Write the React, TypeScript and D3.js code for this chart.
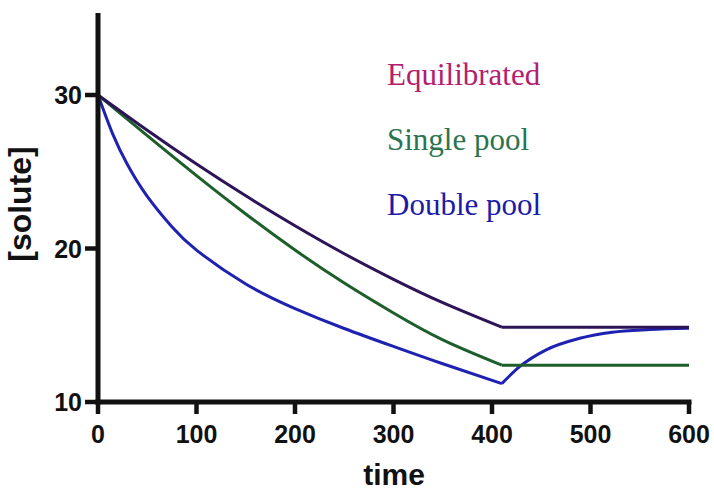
import React from "react";
import * as d3 from "d3";

// Solute concentration during and after a dialysis session (ends at t = 410)
const eqTimeOn = [0, 50, 100, 150, 200, 250, 300, 350, 410];
const eqValOn = [30, 27.7, 25.5, 23.43, 21.48, 19.66, 17.99, 16.47, 14.87];
const eqTimeOff = [410, 600];
const eqValOff = [14.87, 14.87];

const spTimeOn = [0, 50, 100, 150, 200, 250, 300, 350, 410];
const spValOn = [30, 27.35, 24.75, 22.25, 19.9, 17.75, 15.8, 14.05, 12.4];
const spTimeOff = [410, 600];
const spValOff = [12.4, 12.4];

const dpTimeOn = [0, 15, 30, 50, 75, 100, 150, 200, 250, 300, 350, 410];
const dpValOn = [30, 27.45, 25.45, 23.39, 21.41, 19.89, 17.69, 16.09, 14.79, 13.62, 12.49, 11.2];
const dpTimeOff = [410, 428, 455, 489, 522, 560, 600];
const dpValOff = [11.2, 12.3, 13.4, 14.15, 14.55, 14.72, 14.8];

const xTicks = [0, 100, 200, 300, 400, 500, 600];
const yTicks = [10, 20, 30];

const seriesNames = ["Equilibrated", "Single pool", "Double pool"];

const W = 714;
const H = 491;

const x = d3.scaleLinear().domain([0, 600]).range([98, 689]);
const y = d3.scaleLinear().domain([10, 30]).range([402, 95]);
const yTop = 35.35;

const lineOn = d3
  .line<[number, number]>()
  .x((d) => x(d[0]))
  .y((d) => y(d[1]))
  .curve(d3.curveNatural);

const lineOff = d3
  .line<[number, number]>()
  .x((d) => x(d[0]))
  .y((d) => y(d[1]))
  .curve(d3.curveMonotoneX);

const zip = (t: number[], v: number[]): [number, number][] =>
  t.map((ti, i) => [ti, v[i]]);

const series = [
  {
    name: seriesNames[0],
    on: zip(eqTimeOn, eqValOn),
    off: zip(eqTimeOff, eqValOff),
    stroke: "#2c1456",
    labelColor: "#b3206e",
  },
  {
    name: seriesNames[1],
    on: zip(spTimeOn, spValOn),
    off: zip(spTimeOff, spValOff),
    stroke: "#1d5e2a",
    labelColor: "#2a7450",
  },
  {
    name: seriesNames[2],
    on: zip(dpTimeOn, dpValOn),
    off: zip(dpTimeOff, dpValOff),
    stroke: "#1f22b0",
    labelColor: "#1c1ca6",
  },
];

const sans = "'Liberation Sans', Arial, Helvetica, sans-serif";
const serif = "'Liberation Serif', 'Times New Roman', serif";

export default function App() {
  const axisW = 5;
  return (
    <svg
      width={W}
      height={H}
      viewBox={`0 0 ${W} ${H}`}
      style={{ position: "absolute", left: 0, top: 0, background: "#fff" }}
    >
      {/* data curves: dialysis phase, then rebound phase */}
      {series
        .slice()
        .reverse()
        .map((s) => (
          <g key={s.name}>
            <path
              d={lineOn(s.on) || ""}
              fill="none"
              stroke={s.stroke}
              strokeWidth={3}
              strokeLinejoin="round"
            />
            <path
              d={lineOff(s.off) || ""}
              fill="none"
              stroke={s.stroke}
              strokeWidth={3}
              strokeLinejoin="round"
            />
          </g>
        ))}

      {/* axes */}
      <line
        x1={x(0)}
        x2={x(0)}
        y1={y(yTop)}
        y2={y(10) + axisW / 2}
        stroke="#111"
        strokeWidth={axisW}
      />
      <line
        x1={x(0) - axisW / 2}
        x2={x(600) + axisW / 2}
        y1={y(10)}
        y2={y(10)}
        stroke="#111"
        strokeWidth={axisW}
      />
      {yTicks.map((t) => (
        <g key={"y" + t}>
          <line x1={x(0) - 13} x2={x(0)} y1={y(t)} y2={y(t)} stroke="#111" strokeWidth={4.5} />
          <text
            x={x(0) - 16}
            y={y(t)}
            dy="0.36em"
            textAnchor="end"
            fontFamily={sans}
            fontWeight="bold"
            fontSize={25}
            fill="#111"
          >
            {t}
          </text>
        </g>
      ))}
      {xTicks.map((t) => (
        <g key={"x" + t}>
          <line x1={x(t)} x2={x(t)} y1={y(10)} y2={y(10) + 12} stroke="#111" strokeWidth={4.5} />
          <text
            x={x(t)}
            y={443}
            textAnchor="middle"
            fontFamily={sans}
            fontWeight="bold"
            fontSize={25}
            fill="#111"
          >
            {t}
          </text>
        </g>
      ))}

      {/* axis titles */}
      <text
        x={394}
        y={485}
        textAnchor="middle"
        fontFamily={sans}
        fontWeight="bold"
        fontSize={30}
        fill="#111"
      >
        time
      </text>
      <text
        transform={`translate(31,204) rotate(-90)`}
        textAnchor="middle"
        fontFamily={sans}
        fontWeight="bold"
        fontSize={32}
        fill="#111"
      >
        [solute]
      </text>

      {/* legend labels */}
      {series.map((s, i) => (
        <text
          key={"lg" + s.name}
          x={387}
          y={85 + i * 65}
          fontFamily={serif}
          fontSize={31}
          fill={s.labelColor}
        >
          {s.name}
        </text>
      ))}
    </svg>
  );
}
